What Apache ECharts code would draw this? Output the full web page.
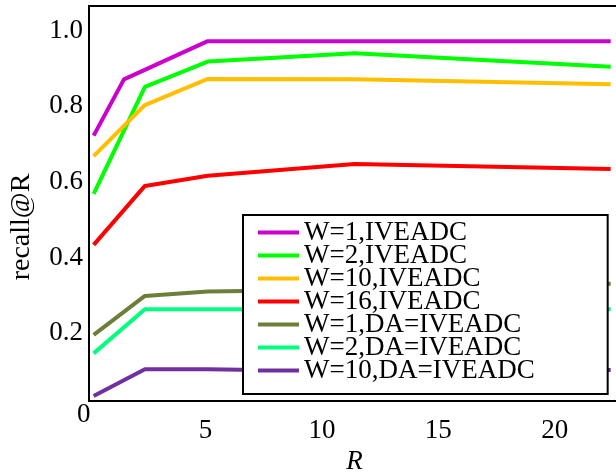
<!DOCTYPE html>
<html>
<head>
<meta charset="utf-8">
<script src="https://cdn.jsdelivr.net/npm/echarts@6/dist/echarts.min.js"></script>
<style>
    html, body { margin: 0; padding: 0; background: #fff; }
    #chart { width: 616px; height: 472px; }
</style>
</head>
<body>
<div id="chart"></div>
<script>
// R values (x)
const rW1 = [0.2, 1.5, 5.1, 11.4, 22.4];
const rOther = [0.2, 2.4, 5.1, 11.4, 22.4];

// recall@R for each setting
const w1 = [0.712, 0.861, 0.962, 0.962, 0.962];
const w2 = [0.558, 0.841, 0.908, 0.930, 0.894];
const w10 = [0.658, 0.793, 0.862, 0.861, 0.848];
const w16 = [0.423, 0.579, 0.606, 0.637, 0.624];
const w1da = [0.185, 0.288, 0.300, 0.305, 0.320];
const w2da = [0.136, 0.253, 0.253, 0.253, 0.253];
const w10da = [0.023, 0.094, 0.094, 0.088, 0.092];

const yTicks = [0.2, 0.4, 0.6, 0.8, 1.0];
const xTicks = [5, 10, 15, 20];

const names = ['W=1,IVEADC', 'W=2,IVEADC', 'W=10,IVEADC', 'W=16,IVEADC',
    'W=1,DA=IVEADC', 'W=2,DA=IVEADC', 'W=10,DA=IVEADC'];
const colors = ['#cc00cc', '#00ff00', '#ffbf00', '#ff0000', '#6b7f38', '#00ff7f', '#7030a0'];
const xs = [rW1, rOther, rOther, rOther, rOther, rOther, rOther];
const ys = [w1, w2, w10, w16, w1da, w2da, w10da];

const font = 'Liberation Serif, Times New Roman, serif';

const myChart = echarts.init(document.getElementById('chart'));

const options = {
    animation: false,
    grid: {
        left: 89,
        top: 6,
        width: 531,
        bottom: 71,
        outerBoundsMode: 'none',
        show: true,
        borderColor: '#000',
        borderWidth: 2
    },
    legend: {
        data: names,
        orient: 'vertical',
        left: 243,
        top: 215,
        padding: [4, 73, 10, 15],
        itemWidth: 41,
        itemHeight: 4,
        itemGap: -4,
        icon: 'rect',
        backgroundColor: '#fff',
        borderColor: '#000',
        borderWidth: 2,
        textStyle: { fontFamily: font, fontSize: 27, color: '#000' }
    },
    xAxis: {
        type: 'value',
        min: 0,
        max: 22.8,
        name: 'R',
        nameLocation: 'middle',
        nameGap: 45,
        nameTextStyle: { fontFamily: font, fontSize: 27, fontStyle: 'italic', color: '#000' },
        axisLine: { show: false },
        axisTick: { show: false },
        splitLine: { show: false },
        axisLabel: {
            customValues: xTicks,
            margin: 16,
            fontFamily: font,
            fontSize: 27,
            color: '#000'
        }
    },
    yAxis: {
        type: 'value',
        min: 0.01,
        max: 1.055,
        axisLine: { show: false },
        axisTick: { show: false },
        splitLine: { show: false },
        axisLabel: {
            customValues: yTicks,
            margin: 6,
            fontFamily: font,
            fontSize: 27,
            color: '#000',
            // 文字略往下移
            formatter: v => '{a|' + v.toFixed(1) + '}',
            rich: {
                a: { fontFamily: font, fontSize: 27, color: '#000', padding: [8, 0, 0, 0] }
            }
        }
    },
    graphic: [
        {
            // 原點的 0
            type: 'text',
            left: 77,
            top: 401,
            style: { text: '0', font: '27px ' + font, fill: '#000' }
        },
        {
            type: 'text',
            x: 22,
            y: 227,
            rotation: Math.PI / 2,
            style: {
                text: 'recall@R',
                font: '28px ' + font,
                fill: '#000',
                align: 'center',
                verticalAlign: 'middle'
            }
        }
    ],
    series: names.map((n, i) => ({
        name: n,
        type: 'line',
        showSymbol: false,
        color: colors[i],
        lineStyle: { width: 4, color: colors[i] },
        data: xs[i].map((x, j) => [x, ys[i][j]])
    }))
};

myChart.setOption(options);
</script>
</body>
</html>
